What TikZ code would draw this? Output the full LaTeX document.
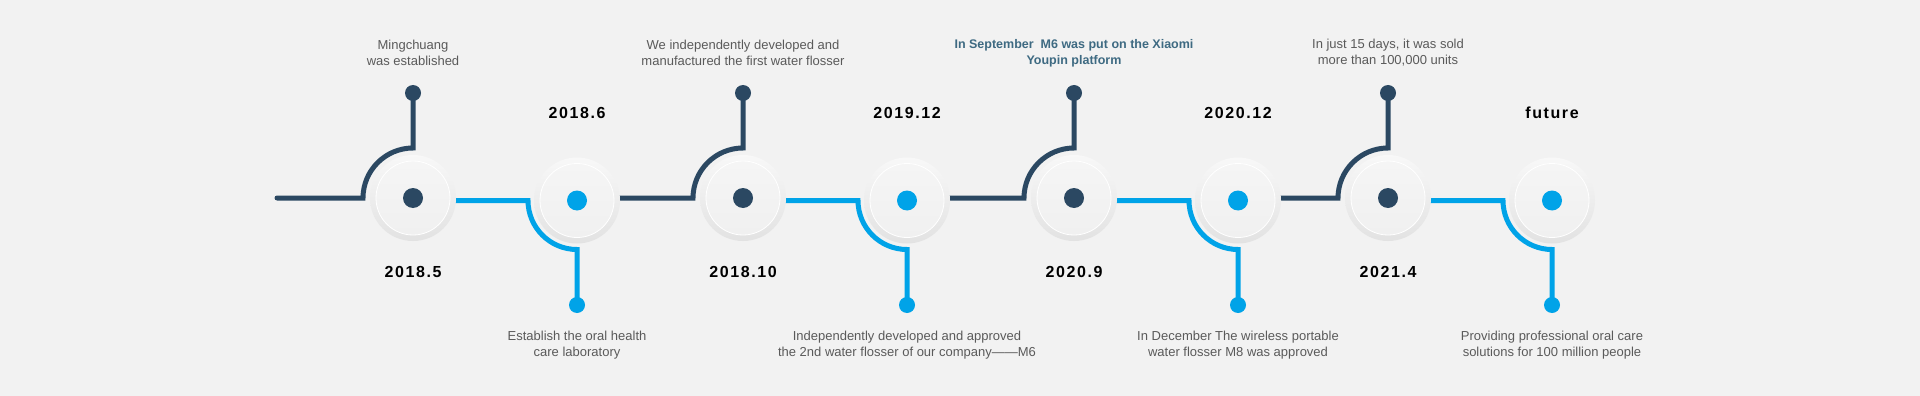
\documentclass[tikz,border=0pt]{standalone}
\usepackage{fontspec}
\setmainfont{Liberation Sans}
\newfontfamily\yearfont[LetterSpace=10]{Liberation Sans}
\usetikzlibrary{calc}
\definecolor{navy}{HTML}{2B4862}
\definecolor{sky}{HTML}{00A3E8}
\definecolor{bgc}{HTML}{F2F2F2}
\definecolor{txt}{HTML}{5A5A5A}
\definecolor{tealtxt}{HTML}{3E6A82}
\definecolor{ringtop}{HTML}{F8F8F8}
\definecolor{ringbot}{HTML}{E2E2E2}
\definecolor{innertop}{HTML}{F5F5F5}
\definecolor{innerbot}{HTML}{F0F0F0}
\begin{document}
\begin{tikzpicture}[x=1pt,y=-1pt,
  navyline/.style={draw=navy,line width=5pt},
  skyline/.style={draw=sky,line width=5pt},
  disc/.style={circle,minimum size=86pt,inner sep=0pt,top color=ringtop,bottom color=ringbot},
  innerdisc/.style={circle,minimum size=74pt,inner sep=0pt,top color=innertop,bottom color=innerbot,draw=white,line width=0.8pt},
  navydot/.style={circle,fill=navy,minimum size=20pt,inner sep=0pt},
  skydot/.style={circle,fill=sky,minimum size=20pt,inner sep=0pt},
  navyend/.style={circle,fill=navy,minimum size=16pt,inner sep=0pt},
  skyend/.style={circle,fill=sky,minimum size=16pt,inner sep=0pt},
  desc/.style={align=center,text=txt,font=\fontsize{13}{16}\selectfont,inner sep=0pt},
  descb/.style={align=center,text=tealtxt,font=\fontsize{12.5}{16}\selectfont\bfseries,inner sep=0pt},
  yearlbl/.style={text=black,font=\yearfont\bfseries\fontsize{16}{19}\selectfont,inner sep=0pt}
]
\fill[bgc] (0,0) rectangle (1920,396);
\useasboundingbox (0,0) rectangle (1920,396);

% centres
\coordinate (s0) at (277,198);
\coordinate (c1) at (413,198);
\coordinate (c2) at (577,200.5);
\coordinate (c3) at (743,198);
\coordinate (c4) at (907,200.5);
\coordinate (c5) at (1074,198);
\coordinate (c6) at (1238,200.5);
\coordinate (c7) at (1388,198);
\coordinate (c8) at (1552,200.5);

% end dots
\node[navyend] (t1) at (413,93) {};
\node[skyend] (b2) at (577,305) {};
\node[navyend] (t3) at (743,93) {};
\node[skyend] (b4) at (907,305) {};
\node[navyend] (t5) at (1074,93) {};
\node[skyend] (b6) at (1238,305) {};
\node[navyend] (t7) at (1388,93) {};
\node[skyend] (b8) at (1552,305) {};

% connectors
\draw[navyline,line cap=round] (s0) -- ($(c1)+(-50,0)$) arc[start angle=180,end angle=270,radius=50] -- (t1.center);
\draw[skyline] ($(c1|-c2)$) -- ($(c2)+(-49,0)$) arc[start angle=180,end angle=90,radius=49] -- (b2.center);
\draw[navyline] ($(c2|-c3)$) -- ($(c3)+(-50,0)$) arc[start angle=180,end angle=270,radius=50] -- (t3.center);
\draw[skyline] ($(c3|-c4)$) -- ($(c4)+(-49,0)$) arc[start angle=180,end angle=90,radius=49] -- (b4.center);
\draw[navyline] ($(c4|-c5)$) -- ($(c5)+(-50,0)$) arc[start angle=180,end angle=270,radius=50] -- (t5.center);
\draw[skyline] ($(c5|-c6)$) -- ($(c6)+(-49,0)$) arc[start angle=180,end angle=90,radius=49] -- (b6.center);
\draw[navyline] ($(c6|-c7)$) -- ($(c7)+(-50,0)$) arc[start angle=180,end angle=270,radius=50] -- (t7.center);
\draw[skyline] ($(c7|-c8)$) -- ($(c8)+(-49,0)$) arc[start angle=180,end angle=90,radius=49] -- (b8.center);

% circles
\foreach \i/\s in {1/navydot,2/skydot,3/navydot,4/skydot,5/navydot,6/skydot,7/navydot,8/skydot}{
  \node[disc] (d\i) at (c\i) {};
  \node[innerdisc] (e\i) at (c\i) {};
  \node[\s] (p\i) at (c\i) {};
}

% descriptions
\node[desc] (x1) at (413,53) {Mingchuang\\was established};
\node[desc] (x3) at (743,53) {We independently developed and\\manufactured the first water flosser};
\node[descb] (x5) at (1074,53) {In September\ \ M6 was put on the Xiaomi\\Youpin platform};
\node[desc] (x7) at (1388,53) {In just 15 days, it was sold\\more than 100,000 units};
\node[desc] (x2) at (577,345) {Establish the oral health\\care laboratory};
\node[desc] (x4) at (907,345) {Independently developed and approved\\the 2nd water flosser of our company——M6};
\node[desc] (x6) at (1238,345) {In December The wireless portable\\water flosser M8 was approved};
\node[desc] (x8) at (1552,345) {Providing professional oral care\\solutions for 100 million people};

% years
\node[yearlbl] (y1) at (413,272) {2018.5};
\node[yearlbl] (y2) at (577,113) {2018.6};
\node[yearlbl] (y3) at (743,272) {2018.10};
\node[yearlbl] (y4) at (907,113) {2019.12};
\node[yearlbl] (y5) at (1074,272) {2020.9};
\node[yearlbl] (y6) at (1238,113) {2020.12};
\node[yearlbl] (y7) at (1388,272) {2021.4};
\node[yearlbl] (y8) at (1552,113) {future};
\end{tikzpicture}
\end{document}
